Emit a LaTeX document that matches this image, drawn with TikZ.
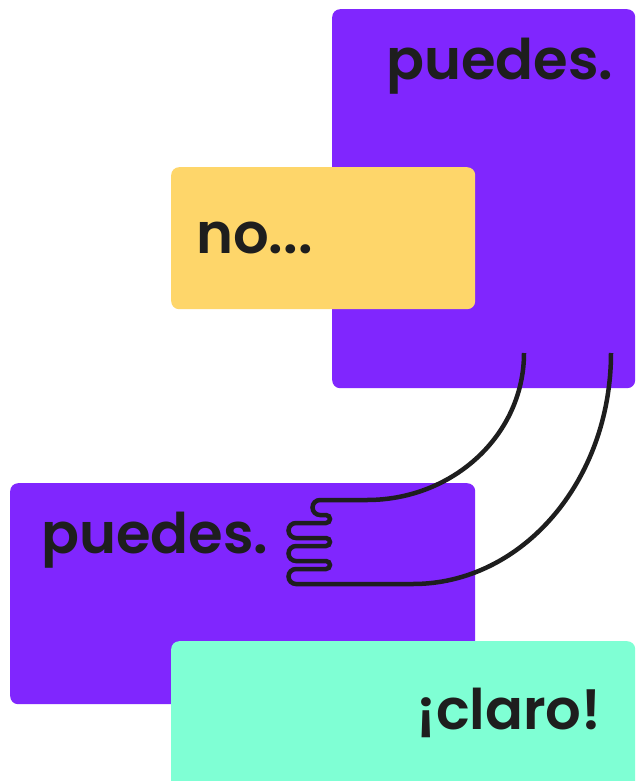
\documentclass[tikz,border=0pt]{standalone}
\usepackage{fontspec}
\setmainfont{Poppins}
\newfontfamily\wordfont{Poppins SemiBold}
\definecolor{violet}{HTML}{8026FE}
\definecolor{sun}{HTML}{FED66A}
\definecolor{mint}{HTML}{7FFFD4}
\definecolor{ink}{HTML}{1E1E1E}
\tikzset{
  card/.style={rounded corners=8pt, inner sep=0pt, anchor=north west},
  word/.style={anchor=base west, inner sep=0pt, text=ink, font=\wordfont\fontsize{56}{56}\selectfont},
  armline/.style={draw=ink, line width=4.5pt}
}
\begin{document}
\begin{tikzpicture}[x=1pt,y=-1pt]
\clip (0,0) rectangle (635,781);
\fill[white] (0,0) rectangle (635,781);
\node[card, fill=violet, minimum width=303pt, minimum height=379pt] (topcard) at (332,9) {};
\node[card, fill=sun, minimum width=304pt, minimum height=142pt] (nocard) at (171,167) {};
\node[card, fill=violet, minimum width=465pt, minimum height=221pt] (lowcard) at (10,483) {};
\node[card, fill=mint, minimum width=464pt, minimum height=160pt] (clarocard) at (171,641) {};
\node[word] (t1) at (386,80) {puedes.};
\node[word] (t2) at (196,253) {no...};
\node[word] (t3) at (41,553) {puedes.};
\node[word] (t4) at (416,729) {¡claro!};
\coordinate (armA) at (524,353);
\coordinate (armB) at (611,353);
\draw[armline] (armA) arc[start angle=0,end angle=90,x radius=157,y radius=147]
  -- (320,500) arc[start angle=270,end angle=90,radius=7.5]
  -- (326,515) arc[start angle=-90,end angle=90,radius=4]
  -- (296,523) arc[start angle=270,end angle=90,radius=7.5]
  -- (326,538) arc[start angle=-90,end angle=90,radius=4]
  -- (296,546) arc[start angle=270,end angle=90,radius=7.5]
  -- (326,561) arc[start angle=-90,end angle=90,radius=4]
  -- (296,569) arc[start angle=270,end angle=90,radius=7.5]
  -- (413,584) arc[start angle=90,end angle=0,x radius=198,y radius=231];
\end{tikzpicture}
\end{document}
